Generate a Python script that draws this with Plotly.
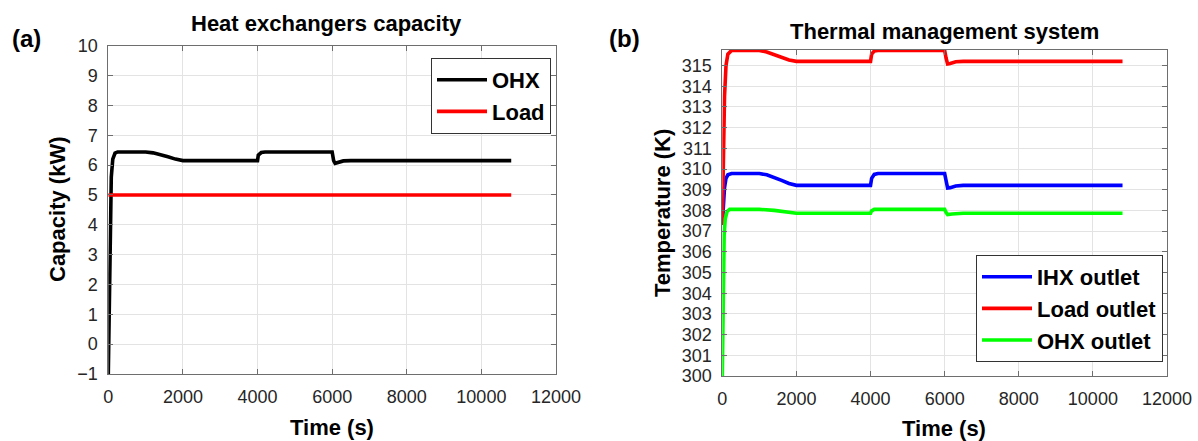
import plotly.graph_objects as go

# ---------------- data ----------------
# (a) Heat exchangers capacity
t_ohx = [0, 25, 50, 80, 120, 180, 250, 1000, 1200, 1400, 1600, 1800, 2000,
         4000, 4020, 4100, 4200, 6000, 6040, 6080, 6150, 6300, 6500, 10800]
cap_ohx = [-1, 1.5, 4.0, 5.6, 6.2, 6.4, 6.44, 6.44, 6.41, 6.36, 6.28, 6.2, 6.15,
           6.15, 6.33, 6.42, 6.44, 6.44, 6.15, 6.06, 6.08, 6.14, 6.15, 6.15]
t_load = [0, 10800]
cap_load = [5, 5]

# (b) Thermal management system
t_tms = [0, 30, 60, 100, 150, 250, 1000, 1200, 1400, 1600, 1800, 2000,
         4000, 4030, 4100, 4200, 6000, 6040, 6080, 6150, 6300, 6500, 10800]
T_load = [307.3, 310.5, 313.5, 315.0, 315.55, 315.73, 315.73, 315.65, 315.52, 315.4, 315.27, 315.2,
          315.2, 315.55, 315.7, 315.73, 315.73, 315.35, 315.08, 315.1, 315.18, 315.2, 315.2]
T_ihx = [307.3, 308.3, 309.1, 309.55, 309.72, 309.78, 309.78, 309.72, 309.6, 309.45, 309.3, 309.21,
         309.21, 309.55, 309.74, 309.78, 309.78, 309.35, 309.08, 309.1, 309.18, 309.21, 309.21]
t_ohxo = [0, 20, 50, 80, 130, 200, 1000, 1400, 1800, 2000, 4000, 4030, 4100,
          6000, 6040, 6080, 6200, 6500, 10800]
T_ohx = [300, 304, 306.8, 307.6, 307.95, 308.05, 308.05, 308.0, 307.9, 307.86, 307.86, 307.98, 308.05,
         308.05, 307.9, 307.8, 307.83, 307.86, 307.86]

x_ticks = [0, 2000, 4000, 6000, 8000, 10000, 12000]
x_ticklabels = ["0", "2000", "4000", "6000", "8000", "10000", "12000"]

FONT = "Liberation Sans, Arial, sans-serif"
TXT = "#262626"
AX = "#6e6e6e"
GRID = "#e3e3e3"
LW = 3.6

fig = go.Figure()
fig.add_trace(go.Scatter(x=t_ohx, y=cap_ohx, mode="lines", name="OHX",
                         line=dict(color="black", width=LW), xaxis="x", yaxis="y", legend="legend"))
fig.add_trace(go.Scatter(x=t_load, y=cap_load, mode="lines", name="Load",
                         line=dict(color="#ff0000", width=LW), xaxis="x", yaxis="y", legend="legend"))
fig.add_trace(go.Scatter(x=t_tms, y=T_ihx, mode="lines", name="IHX outlet",
                         line=dict(color="#0000ff", width=LW), xaxis="x2", yaxis="y2", legend="legend2"))
fig.add_trace(go.Scatter(x=t_tms, y=T_load, mode="lines", name="Load outlet",
                         line=dict(color="#ff0000", width=LW), xaxis="x2", yaxis="y2", legend="legend2"))
fig.add_trace(go.Scatter(x=t_ohxo, y=T_ohx, mode="lines", name="OHX outlet",
                         line=dict(color="#00ff00", width=LW), xaxis="x2", yaxis="y2", legend="legend2"))

W, H = 1198, 441
def px(x): return x / W
def py(y): return 1 - y / H

axcommon = dict(showline=True, linecolor=AX, linewidth=1, mirror="allticks",
                ticks="inside", ticklen=5, tickcolor=AX, automargin=False,
                showgrid=True, gridcolor=GRID, gridwidth=1, zeroline=False,
                tickfont=dict(family=FONT, size=18, color=TXT))

fig.update_layout(
    width=W, height=H, margin=dict(l=0, r=0, t=0, b=0, autoexpand=False),
    paper_bgcolor="white", plot_bgcolor="white",
    xaxis=dict(domain=[px(108.3), px(556)], range=[0, 12000], tickvals=x_ticks,
               ticktext=x_ticklabels, anchor="y", ticklabelstandoff=6, **axcommon),
    yaxis=dict(domain=[py(374), py(45.7)], range=[-1, 10], dtick=1,
               anchor="x", ticklabelstandoff=6, **axcommon),
    xaxis2=dict(domain=[px(722.3), px(1167)], range=[0, 12000], tickvals=x_ticks,
                ticktext=x_ticklabels, anchor="y2", ticklabelstandoff=6, **axcommon),
    yaxis2=dict(domain=[py(376), py(50)], range=[300, 315.75], dtick=1,
                anchor="x2", ticklabelstandoff=6, **axcommon),
    legend=dict(x=px(551), y=py(58), xanchor="right", yanchor="top",
                bgcolor="white", bordercolor="#333", borderwidth=1,
                font=dict(family=FONT, size=22, color="black", weight="bold"),
                itemwidth=50, tracegroupgap=0),
    legend2=dict(x=px(1163), y=py(362), xanchor="right", yanchor="bottom",
                 bgcolor="white", bordercolor="#333", borderwidth=1,
                 font=dict(family=FONT, size=22, color="black", weight="bold"),
                 itemwidth=50, tracegroupgap=0),
    showlegend=True,
)

ann = []
def A(text, x, y, size, rot=0, w="bold"):
    ann.append(dict(text=text, x=px(x), y=py(y), xref="paper", yref="paper",
                    showarrow=False, xanchor="center", yanchor="middle", textangle=rot,
                    font=dict(family=FONT, size=size, color="black", weight=w)))

A("Heat exchangers capacity", 326, 24, 22)
A("Thermal management system", 944, 31, 22)
A("(a)", 26, 39, 24)
A("(b)", 624, 39, 24)
A("Capacity (kW)", 57, 210, 22, rot=-90)
A("Temperature (K)", 662, 213, 22, rot=-90)
A("Time (s)", 332, 427, 22)
A("Time (s)", 944, 428, 22)
fig.update_layout(annotations=ann)

fig.write_html("out.html")
